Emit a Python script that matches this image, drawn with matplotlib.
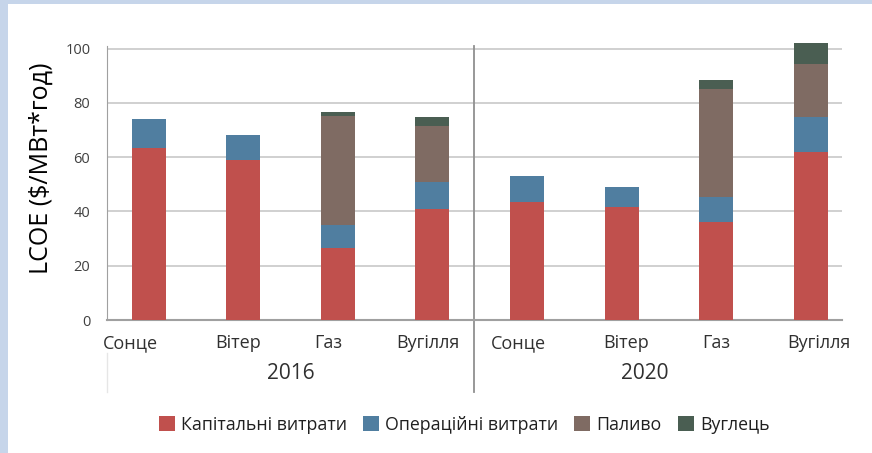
import numpy as np
import matplotlib.pyplot as plt
from matplotlib.patches import Rectangle
from matplotlib.transforms import blended_transform_factory, ScaledTranslation

plt.rcParams['font.family'] = ['Open Sans', 'DejaVu Sans']

categories = ["Сонце", "Вітер", "Газ", "Вугілля", "Сонце", "Вітер", "Газ", "Вугілля"]
years = ["2016", "2020"]
capital = [63.5, 59.0, 26.6, 41.0, 43.5, 41.7, 36.2, 62.0]
om = [10.5, 9.3, 8.5, 10.0, 9.6, 7.3, 9.2, 12.9]
fuel = [0, 0, 40.0, 20.6, 0, 0, 39.9, 19.6]
carbon = [0, 0, 1.5, 3.3, 0, 0, 3.3, 7.5]
series = ["Капітальні витрати", "Операційні витрати", "Паливо", "Вуглець"]
colors = ["#c0504d", "#507ea0", "#7f6b63", "#4a5e52"]

fig = plt.figure(figsize=(8.72, 4.53), dpi=100)
fig.patch.set_facecolor("#c6d5ea")
fig.patches.append(Rectangle((8 / 872, 0), 1, 1 - 4 / 453, transform=fig.transFigure,
                             facecolor="white", edgecolor="none", zorder=-5))

ax = fig.add_axes([107 / 872, 1 - 320 / 453, (842 - 107) / 872, 274 / 453])
ax.set_facecolor("none")

x = np.arange(len(categories))
bottom = np.zeros(len(categories))
for name, vals, c in zip(series, [capital, om, fuel, carbon], colors):
    ax.bar(x, vals, 0.36, bottom=bottom, color=c, label=name, zorder=3, clip_on=False)
    bottom += np.array(vals)

ax.set_xlim(-0.44, 7.33)
ax.set_ylim(0, 101)
ax.set_yticks([0, 20, 40, 60, 80, 100])
ax.yaxis.grid(True, color="#c8c8c8", linewidth=1.2, zorder=0)
for s in ["top", "right"]:
    ax.spines[s].set_visible(False)
ax.spines["left"].set_color("#a0a0a0")
ax.spines["bottom"].set_color("#a0a0a0")
ax.spines["bottom"].set_linewidth(1.5)
ax.tick_params(axis="y", length=0, pad=12, labelsize=10.5, labelcolor="#404040")
ax.tick_params(axis="x", length=0, pad=10, labelsize=13, labelcolor="#303030")
ax.set_xticks(x)
ax.set_xticklabels(categories)

# the labels in the original sit a little off the bar centres
shifts = [-13, -4, -7, -3, -6, 3, 0, 6]
for lab, dx in zip(ax.get_xticklabels(), shifts):
    lab.set_transform(lab.get_transform() + ScaledTranslation(dx / 72, 0, fig.dpi_scale_trans))

ax.set_ylabel("LCOE ($/МВт*год)", fontsize=18, color="black")
ax.yaxis.set_label_coords(-0.073, 0.555)

tr = blended_transform_factory(ax.transData, ax.transAxes)
ax.plot([3.44, 3.44], [-0.263, 1.0], color="#909090", lw=1.3, transform=tr, clip_on=False)
ax.plot([-0.44, -0.44], [-0.12, -0.263], color="#e6e6e6", lw=1, transform=tr, clip_on=False)
ax.text(1.5, -0.195, years[0], transform=tr, ha="center", va="center", fontsize=15, color="#303030")
ax.text(5.25, -0.195, years[1], transform=tr, ha="center", va="center", fontsize=15, color="#303030")

fig.legend(loc="center", bbox_to_anchor=(464 / 872, 1 - 425 / 453), ncol=4, frameon=False,
           fontsize=12.8, handlelength=0.9, handleheight=0.9, handletextpad=0.35,
           columnspacing=0.9, labelcolor="#202020")

fig.savefig("out.png", dpi=100)
